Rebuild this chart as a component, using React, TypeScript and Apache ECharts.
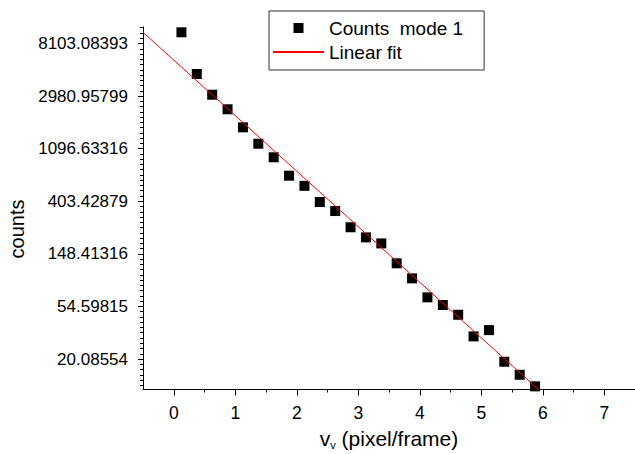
import React, { useEffect, useRef } from "react";
import * as echarts from "echarts";

const xValues = [
  0.125, 0.375, 0.625, 0.875, 1.125, 1.375, 1.625, 1.875, 2.125, 2.375, 2.625, 2.875,
  3.125, 3.375, 3.625, 3.875, 4.125, 4.375, 4.625, 4.875, 5.125, 5.375, 5.625, 5.875,
];
const counts = [
  10027, 4537, 3059, 2319, 1646, 1205, 931, 656, 541, 398, 335, 246,
  203, 181, 124, 93.1, 64.9, 56.1, 46.6, 30.9, 34.8, 19.07, 14.89, 11.94,
];
const fitX = [-0.5, 5.93];
const fitY = [10027, 11.25];
const xTicks = [0, 1, 2, 3, 4, 5, 6, 7];
const xMinorTicks = [0.5, 1.5, 2.5, 3.5, 4.5, 5.5, 6.5];
const yRange = [11.25, 11092];
const xRange = [-0.5, 7.5];
const seriesNames = ["Counts  mode 1", "Linear fit"];

const FONT = "'Liberation Sans', Arial, sans-serif";

// minor tick positions in ln-space (tenths of an e-fold, excluding the majors)
const yMinorLn: number[] = [];
for (let k = 25; k <= 93; k++) {
  if (k % 10 !== 0) yMinorLn.push(k / 10);
}

const HIDDEN_LINE = { show: true, onZero: false, lineStyle: { color: "rgba(0,0,0,0)", width: 0 } };

export default function App() {
  const ref = useRef<HTMLDivElement>(null);
  useEffect(() => {
    document.body.style.margin = "0";
    if (!ref.current) return;
    const chart = echarts.init(ref.current, undefined, { renderer: "svg" });
    const scatterData = xValues.map((x, i) => [x, counts[i]]);
    const fitData = fitX.map((x, i) => [x, fitY[i]]);
    chart.setOption({
      animation: false,
      backgroundColor: "#fff",
      textStyle: { fontFamily: FONT },
      grid: { left: 143, right: 0, top: 27, height: 362.5, containLabel: false, outerBoundsMode: "none" },
      legend: {
        orient: "vertical",
        left: 269,
        top: 11,
        padding: [6, 21, 7, 3],
        borderColor: "#333",
        borderWidth: 1,
        itemWidth: 51,
        itemHeight: 10,
        itemGap: 2,
        symbolKeepAspect: true,
        textStyle: { fontSize: 19, color: "#000", fontFamily: FONT, lineHeight: 22 },
        data: [
          { name: seriesNames[0], icon: "path://M0,0H10V10H0Z", itemStyle: { color: "#000", opacity: 1 } },
          { name: seriesNames[1], itemStyle: { opacity: 0 } },
        ],
      },
      xAxis: [
        {
          type: "value",
          min: xRange[0],
          max: xRange[1],
          name: "{a|v}{s|v}{a| (pixel/frame)}",
          nameLocation: "middle",
          nameGap: 40,
          nameTextStyle: {
            rich: {
              a: {
                fontSize: 21,
                lineHeight: 21,
                color: "#000",
                fontFamily: FONT,
                verticalAlign: "bottom",
                padding: [0, 0, 2, 0],
              },
              s: { fontSize: 11, lineHeight: 11, color: "#000", fontFamily: FONT, verticalAlign: "bottom" },
            },
          },
          axisLine: { show: true, onZero: false, lineStyle: { color: "#000", width: 1 } },
          axisTick: { show: true, inside: false, length: 6, customValues: xTicks, lineStyle: { color: "#000" } },
          splitLine: { show: false },
          axisLabel: {
            fontSize: 17.5,
            color: "#000",
            fontFamily: FONT,
            margin: 14,
            customValues: xTicks,
            formatter: (v: number) => String(v),
          },
        },
        {
          type: "value",
          position: "bottom",
          min: xRange[0],
          max: xRange[1],
          axisLine: HIDDEN_LINE,
          axisTick: { show: true, inside: false, length: 3, customValues: xMinorTicks, lineStyle: { color: "#000" } },
          axisLabel: { show: false },
          splitLine: { show: false },
        },
      ],
      yAxis: [
        {
          type: "log",
          logBase: Math.E,
          min: yRange[0],
          max: yRange[1],
          axisLine: { show: true, onZero: false, lineStyle: { color: "#000", width: 1 } },
          axisTick: { show: true, inside: false, length: 5, lineStyle: { color: "#000" } },
          splitLine: { show: false },
          axisLabel: {
            fontSize: 17,
            color: "#000",
            fontFamily: FONT,
            margin: 15,
            showMinLabel: false,
            showMaxLabel: false,
            formatter: (v: number) => v.toFixed(5),
          },
        },
        {
          type: "value",
          position: "left",
          min: Math.log(yRange[0]),
          max: Math.log(yRange[1]),
          axisLine: HIDDEN_LINE,
          axisTick: { show: true, inside: false, length: 3, customValues: yMinorLn, lineStyle: { color: "#000" } },
          axisLabel: { show: false },
          splitLine: { show: false },
        },
      ],
      graphic: [
        {
          type: "text",
          x: 17,
          y: 229,
          rotation: Math.PI / 2,
          style: {
            text: "counts",
            fontSize: 20,
            fontFamily: FONT,
            fill: "#000",
            align: "center",
            verticalAlign: "middle",
          },
        },
      ],
      series: [
        {
          name: seriesNames[0],
          type: "scatter",
          data: scatterData,
          symbol: "rect",
          symbolSize: 10,
          itemStyle: { color: "#000", opacity: 1 },
        },
        {
          name: seriesNames[1],
          type: "line",
          data: fitData,
          symbol: "none",
          lineStyle: { color: "#ff0000", width: 1 },
          itemStyle: { color: "#ff0000" },
          z: 3,
        },
      ],
    });
    return () => chart.dispose();
  }, []);
  return <div ref={ref} style={{ width: 635, height: 454 }} />;
}
